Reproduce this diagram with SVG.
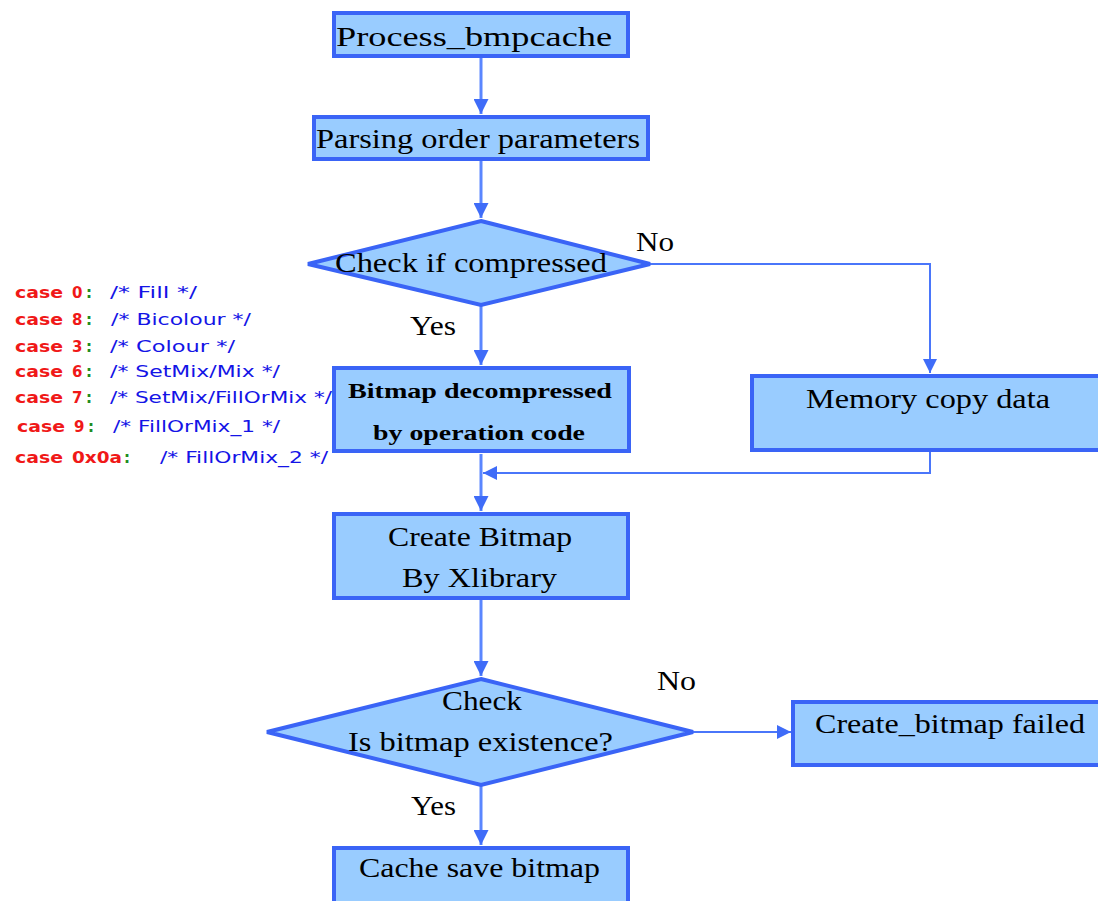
<svg xmlns="http://www.w3.org/2000/svg" width="1098" height="901" viewBox="0 0 1098 901">
  <defs>
    <marker id="arrow" viewBox="0 0 10 10" refX="10" refY="5" markerWidth="5" markerHeight="5" orient="auto" markerUnits="strokeWidth">
      <path d="M0,0 L10,5 L0,10 z" fill="#3f6cf8"/>
    </marker>
    <marker id="arrowThin" viewBox="0 0 10 10" refX="10" refY="5" markerWidth="7" markerHeight="7" orient="auto" markerUnits="strokeWidth">
      <path d="M0,0 L10,5 L0,10 z" fill="#3f6cf8"/>
    </marker>
  </defs>
  <style>
    .box { fill: #99ccff; stroke: #3a64f6; stroke-width: 4; }
    .label { font-family: "Liberation Serif", "Times New Roman", serif; font-size: 28px; fill: #000; }
    .bold { font-family: "Liberation Serif", "Times New Roman", serif; font-size: 22px; font-weight: bold; fill: #000; }
    .edge { fill: none; stroke: #5a86ff; stroke-width: 3; }
    .edgeThin { fill: none; stroke: #4a76fa; stroke-width: 2; }
    .code { font-family: "DejaVu Sans", Verdana, sans-serif; font-size: 15px; }
    .kw { fill: #f01818; font-weight: bold; }
    .num { fill: #f01818; font-weight: bold; }
    .colon { fill: #1e8c1e; font-weight: bold; }
    .cmt { fill: #1414e6; }
  </style>
  <rect width="1098" height="901" fill="#ffffff"/>

  <!-- connectors -->
  <g id="connectors">
    <path class="edge" d="M481,57 L481,114" marker-end="url(#arrow)"/>
    <path class="edge" d="M481,160 L481,218" marker-end="url(#arrow)"/>
    <path class="edge" d="M481,306 L481,365" marker-end="url(#arrow)"/>
    <path class="edgeThin" d="M650,264 L930,264 L930,373" marker-end="url(#arrowThin)"/>
    <path class="edgeThin" d="M930,452 L930,473 L483,473" marker-end="url(#arrowThin)"/>
    <path class="edge" d="M481,454 L481,511" marker-end="url(#arrow)"/>
    <path class="edge" d="M481,600 L481,676" marker-end="url(#arrow)"/>
    <path class="edge" d="M481,786 L481,845" marker-end="url(#arrow)"/>
    <path class="edgeThin" d="M693,732 L791,732" marker-end="url(#arrowThin)"/>
  </g>

  <!-- nodes -->
  <g id="process-bmpcache">
    <rect class="box" x="334" y="13" width="294" height="43"/>
    <text class="label" x="336" y="46" textLength="276" lengthAdjust="spacingAndGlyphs">Process_bmpcache</text>
  </g>

  <g id="parsing-order">
    <rect class="box" x="314" y="117" width="334" height="42"/>
    <text class="label" x="316" y="148" textLength="324" lengthAdjust="spacingAndGlyphs">Parsing order parameters</text>
  </g>

  <g id="check-compressed">
    <polygon class="box" points="481,221 650,264 481,305 308,264"/>
    <text class="label" x="335" y="272" textLength="272" lengthAdjust="spacingAndGlyphs">Check if compressed</text>
    <text class="label" x="636" y="251" font-size="25" textLength="38" lengthAdjust="spacingAndGlyphs">No</text>
    <text class="label" x="410" y="335" font-size="25" textLength="46" lengthAdjust="spacingAndGlyphs">Yes</text>
  </g>

  <g id="bitmap-decompressed">
    <rect class="box" x="334" y="368" width="295" height="83"/>
    <text class="bold" x="348" y="398" textLength="264" lengthAdjust="spacingAndGlyphs">Bitmap decompressed</text>
    <text class="bold" x="373" y="440" textLength="212" lengthAdjust="spacingAndGlyphs">by operation code</text>
  </g>

  <g id="memory-copy">
    <rect class="box" x="752" y="376" width="352" height="74"/>
    <text class="label" x="806" y="408" textLength="244" lengthAdjust="spacingAndGlyphs">Memory copy data</text>
  </g>

  <g id="create-bitmap">
    <rect class="box" x="334" y="514" width="294" height="84"/>
    <text class="label" x="388" y="546" textLength="184" lengthAdjust="spacingAndGlyphs">Create Bitmap</text>
    <text class="label" x="402" y="587" textLength="155" lengthAdjust="spacingAndGlyphs">By Xlibrary</text>
  </g>

  <g id="check-existence">
    <polygon class="box" points="481,679 693,732 481,785 267,732"/>
    <text class="label" x="442" y="710" textLength="80" lengthAdjust="spacingAndGlyphs">Check</text>
    <text class="label" x="348" y="751" textLength="265" lengthAdjust="spacingAndGlyphs">Is bitmap existence?</text>
    <text class="label" x="657" y="690" font-size="25" textLength="39" lengthAdjust="spacingAndGlyphs">No</text>
    <text class="label" x="411" y="815" font-size="25" textLength="45" lengthAdjust="spacingAndGlyphs">Yes</text>
  </g>

  <g id="create-failed">
    <rect class="box" x="793" y="702" width="310" height="63"/>
    <text class="label" x="815" y="733" textLength="270" lengthAdjust="spacingAndGlyphs">Create_bitmap failed</text>
  </g>

  <g id="cache-save">
    <rect class="box" x="334" y="848" width="294" height="60"/>
    <text class="label" x="359" y="877" textLength="241" lengthAdjust="spacingAndGlyphs">Cache save bitmap</text>
  </g>

  <!-- opcode list -->
  <g id="opcode-cases" class="code">
    <text y="298"><tspan class="kw" x="15" textLength="48" lengthAdjust="spacingAndGlyphs">case</tspan><tspan class="num" x="72">0</tspan><tspan class="colon" x="86">:</tspan><tspan class="cmt" x="110" textLength="87" lengthAdjust="spacingAndGlyphs">/* Fill */</tspan></text>
    <text y="325"><tspan class="kw" x="15" textLength="48" lengthAdjust="spacingAndGlyphs">case</tspan><tspan class="num" x="72">8</tspan><tspan class="colon" x="86">:</tspan><tspan class="cmt" x="111" textLength="140" lengthAdjust="spacingAndGlyphs">/* Bicolour */</tspan></text>
    <text y="352"><tspan class="kw" x="15" textLength="48" lengthAdjust="spacingAndGlyphs">case</tspan><tspan class="num" x="72">3</tspan><tspan class="colon" x="86">:</tspan><tspan class="cmt" x="110" textLength="125" lengthAdjust="spacingAndGlyphs">/* Colour */</tspan></text>
    <text y="377"><tspan class="kw" x="15" textLength="48" lengthAdjust="spacingAndGlyphs">case</tspan><tspan class="num" x="72">6</tspan><tspan class="colon" x="86">:</tspan><tspan class="cmt" x="110" textLength="170" lengthAdjust="spacingAndGlyphs">/* SetMix/Mix */</tspan></text>
    <text y="403"><tspan class="kw" x="15" textLength="48" lengthAdjust="spacingAndGlyphs">case</tspan><tspan class="num" x="72">7</tspan><tspan class="colon" x="86">:</tspan><tspan class="cmt" x="110" textLength="222" lengthAdjust="spacingAndGlyphs">/* SetMix/FillOrMix */</tspan></text>
    <text y="432"><tspan class="kw" x="17" textLength="48" lengthAdjust="spacingAndGlyphs">case</tspan><tspan class="num" x="74">9</tspan><tspan class="colon" x="88">:</tspan><tspan class="cmt" x="113" textLength="167" lengthAdjust="spacingAndGlyphs">/* FillOrMix_1 */</tspan></text>
    <text y="463"><tspan class="kw" x="15" textLength="48" lengthAdjust="spacingAndGlyphs">case</tspan><tspan class="num" x="72" textLength="50" lengthAdjust="spacingAndGlyphs">0x0a</tspan><tspan class="colon" x="124">:</tspan><tspan class="cmt" x="160" textLength="168" lengthAdjust="spacingAndGlyphs">/* FillOrMix_2 */</tspan></text>
  </g>
</svg>
